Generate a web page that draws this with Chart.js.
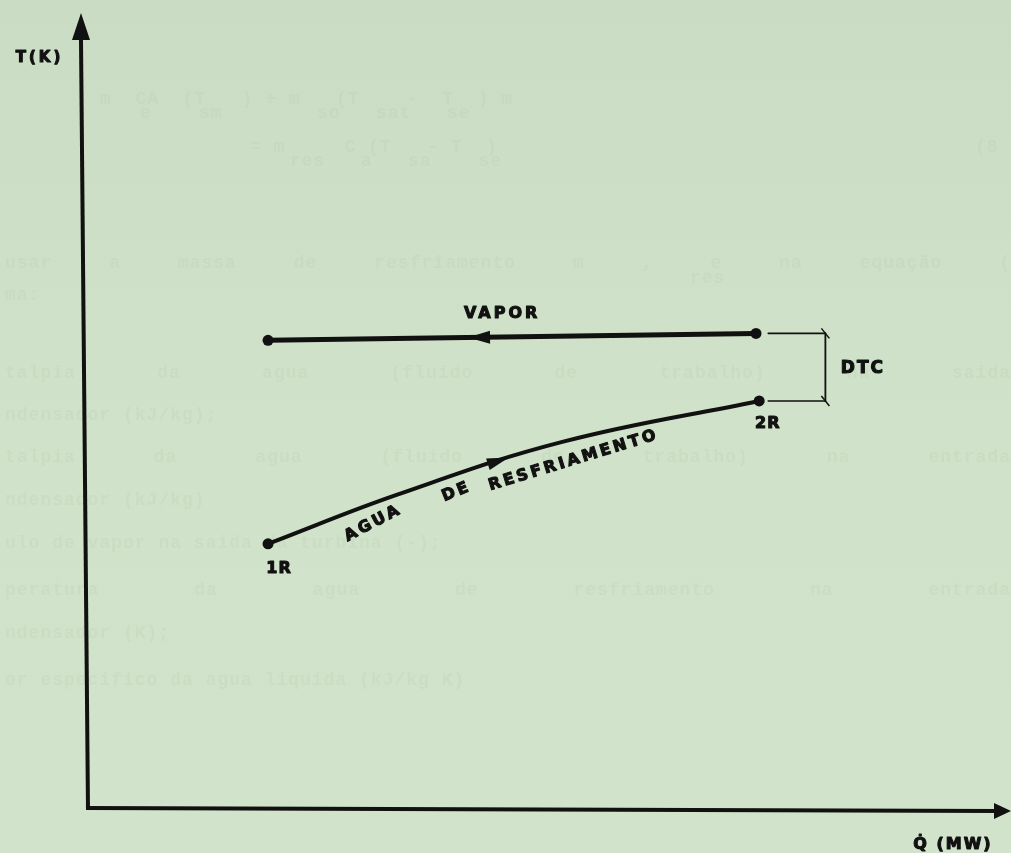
<!DOCTYPE html>
<html>
<head>
<meta charset="utf-8">
<script src="https://cdn.jsdelivr.net/npm/chart.js@4.4.1/dist/chart.umd.min.js"></script>
<style>
  html, body { margin: 0; padding: 0; background: #cfe0c8; overflow: hidden; }
  #wrap { width: 1011px; height: 853px; position: relative; }
</style>
</head>
<body>
<div id="wrap"><canvas id="c" width="1011" height="853"></canvas></div>
<script>
// Heat transferred (Q, arbitrary units) and temperature (T, arbitrary units)
const vaporQ = [19.85, 73.65];
const vaporT = [60.9, 61.8];
const aguaQ = [19.85, 34.1, 52.4, 74.0];
const aguaT = [34.4, 40.8, 47.7, 53.0];

// Terminal temperature difference bracket
const dtcQ = 81.3;
const dtcStartQ = 75.0;

// Flow direction arrows (position along Q)
const vaporArrowQ = 41.9;
const aguaArrowQ = 46.4;

// Labels
const axisLabelT = 'T(K)';
const axisLabelQ = 'Q\u0307 (MW)';
const labels = [
  { text: 'VAPOR', q: 45.5, t: 64.4, angle: 0, size: 16, spacing: 3 },
  { text: 'DTC', q: 83.0, t: 57.2, angle: 0, size: 17, spacing: 2, align: 'left' },
  { text: '2R', q: 74.9, t: 50.0, angle: 0, size: 16, spacing: 1 },
  { text: '1R', q: 21.0, t: 31.2, angle: 0, size: 16, spacing: 1 },
  { text: 'AGUA', q: 31.3, t: 37.0, angle: -28, size: 16, spacing: 3 },
  { text: 'DE', q: 40.5, t: 41.1, angle: -22, size: 16, spacing: 3 },
  { text: 'RESFRIAMENTO', q: 53.4, t: 45.2, angle: -17, size: 16, spacing: 3 }
];

// Faint print showing through the paper
const showThrough = [
  { y: 104, x0: 100, text: 'm  CA  (T   ) + m   (T    -  T  ) m' },
  { y: 118, x0: 140, text: 'e    sm        so   sat   se' },
  { y: 152, x0: 250, text: '= m     C (T   - T  )' },
  { y: 166, x0: 290, text: 'res   a   sa    se' },
  { y: 152, x0: 975, text: '(8' },
  { y: 268, x0: 5, x1: 1011, text: 'usar a massa de resfriamento m    , e na equação (' },
  { y: 283, x0: 690, text: 'res' },
  { y: 300, x0: 5, text: 'ma:' },
  { y: 378, x0: 5, x1: 1011, text: 'talpia da agua (fluido de trabalho) na saida' },
  { y: 420, x0: 5, text: 'ndensador (kJ/kg);' },
  { y: 462, x0: 5, x1: 1011, text: 'talpia da agua (fluido de trabalho) na entrada' },
  { y: 505, x0: 5, text: 'ndensador (kJ/kg)' },
  { y: 548, x0: 5, text: 'ulo de vapor na saida da turbina (-);' },
  { y: 595, x0: 5, x1: 1011, text: 'peratura da agua de resfriamento na  entrada' },
  { y: 638, x0: 5, text: 'ndensador (K);' },
  { y: 685, x0: 5, text: 'or especifico da agua liquida (kJ/kg K)' }
];

const INK = '#111111';
const LETTER_FONT = '"DejaVu Sans", sans-serif';

function pts(qs, ts) { return qs.map((q, i) => ({ x: q, y: ts[i] })); }

function drawJustified(ctx, item) {
  if (item.x1 === undefined) { ctx.fillText(item.text, item.x0, item.y); return; }
  const words = item.text.split(/\s+/);
  const total = words.reduce((s, w) => s + ctx.measureText(w).width, 0);
  const gap = (item.x1 - item.x0 - total) / (words.length - 1);
  let x = item.x0;
  words.forEach(w => { ctx.fillText(w, x, item.y); x += ctx.measureText(w).width + gap; });
}

const paperPlugin = {
  id: 'paper',
  beforeDraw(chart) {
    const ctx = chart.ctx;
    ctx.save();
    const g = ctx.createLinearGradient(0, 0, 0, chart.height);
    g.addColorStop(0, '#cbdcc5');
    g.addColorStop(0.5, '#d0e2c9');
    g.addColorStop(1, '#d1e3ca');
    ctx.fillStyle = g;
    ctx.fillRect(0, 0, chart.width, chart.height);
    ctx.font = 'bold 18px "Liberation Mono", monospace';
    ctx.letterSpacing = '1px';
    ctx.fillStyle = 'rgba(60, 95, 60, 0.035)';
    ctx.textBaseline = 'alphabetic';
    showThrough.forEach(item => drawJustified(ctx, item));
    ctx.restore();
  }
};

function arrowHead(ctx, tipX, tipY, dirX, dirY, len, half) {
  const n = Math.hypot(dirX, dirY);
  const ux = dirX / n, uy = dirY / n;
  const bx = tipX - ux * len, by = tipY - uy * len;
  ctx.beginPath();
  ctx.moveTo(tipX, tipY);
  ctx.lineTo(bx - uy * half, by + ux * half);
  ctx.lineTo(bx + uy * half, by - ux * half);
  ctx.closePath();
  ctx.fill();
}

// Pixel point on a polyline through data points at a given Q
function onPolyline(chart, qs, ts, q) {
  const xs = chart.scales.x, ys = chart.scales.y;
  let i = 0;
  while (i < qs.length - 2 && q > qs[i + 1]) i++;
  const f = (q - qs[i]) / (qs[i + 1] - qs[i]);
  const t = ts[i] + f * (ts[i + 1] - ts[i]);
  const dx = xs.getPixelForValue(qs[i + 1]) - xs.getPixelForValue(qs[i]);
  const dy = ys.getPixelForValue(ts[i + 1]) - ys.getPixelForValue(ts[i]);
  return { x: xs.getPixelForValue(q), y: ys.getPixelForValue(t), dx, dy };
}

function drawLabel(ctx, text, x, y, size, angle, spacing, align) {
  ctx.save();
  ctx.translate(x, y);
  ctx.rotate(angle * Math.PI / 180);
  ctx.font = 'bold ' + size + 'px ' + LETTER_FONT;
  ctx.letterSpacing = spacing + 'px';
  ctx.fillStyle = INK;
  ctx.strokeStyle = INK;
  ctx.lineWidth = 1.1;
  ctx.lineJoin = 'round';
  ctx.textBaseline = 'middle';
  ctx.textAlign = align || 'center';
  const ox = align === 'left' ? 0 : spacing / 2;
  ctx.strokeText(text, ox, 0);
  ctx.fillText(text, ox, 0);
  ctx.restore();
}

const overlayPlugin = {
  id: 'overlay',
  afterDatasetsDraw(chart) {
    const ctx = chart.ctx;
    const ca = chart.chartArea;
    const xs = chart.scales.x, ys = chart.scales.y;
    ctx.save();
    ctx.strokeStyle = INK;
    ctx.fillStyle = INK;
    ctx.lineCap = 'butt';

    // Temperature axis with arrow
    ctx.lineWidth = 4;
    ctx.beginPath();
    ctx.moveTo(ca.left, ca.bottom + 2);
    ctx.lineTo(ca.left - 7, ca.top);
    ctx.stroke();
    arrowHead(ctx, ca.left - 7, ca.top - 27, 0, -1, 27, 9);

    // Heat axis with arrow
    ctx.beginPath();
    ctx.moveTo(ca.left - 2, ca.bottom);
    ctx.lineTo(ca.right + 2, ca.bottom + 3);
    ctx.stroke();
    arrowHead(ctx, ca.right + 16, ca.bottom + 3, 1, 0, 17, 8);

    // Flow direction arrows
    const v = onPolyline(chart, vaporQ, vaporT, vaporArrowQ);
    arrowHead(ctx, v.x, v.y, -v.dx, -v.dy, 22, 6.5);
    const a = onPolyline(chart, aguaQ, aguaT, aguaArrowQ);
    arrowHead(ctx, a.x, a.y - 1.5, a.dx, a.dy, 22, 6);

    // Bracket corner ticks
    ctx.lineWidth = 1.5;
    const bx = xs.getPixelForValue(dtcQ);
    [vaporT[1], aguaT[aguaT.length - 1]].forEach(t => {
      const by = ys.getPixelForValue(t);
      ctx.beginPath();
      ctx.moveTo(bx - 4, by - 5);
      ctx.lineTo(bx + 4, by + 5);
      ctx.stroke();
    });

    // Axis titles
    drawLabel(ctx, axisLabelT, ca.left - 50, ca.top + 18, 15, 0, 3, 'center');
    drawLabel(ctx, axisLabelQ, ca.right - 43, ca.bottom + 37, 16, 0, 2, 'center');

    // Curve annotations
    labels.forEach(l => drawLabel(ctx, l.text, xs.getPixelForValue(l.q), ys.getPixelForValue(l.t),
      l.size, l.angle, l.spacing, l.align));
    ctx.restore();
  }
};

const lastIdx = aguaQ.length - 1;

new Chart(document.getElementById('c'), {
  type: 'line',
  data: {
    datasets: [
      {
        label: 'Vapor',
        data: pts(vaporQ, vaporT),
        borderColor: INK, backgroundColor: INK,
        borderWidth: 5, pointRadius: 5.5, pointBackgroundColor: INK, pointBorderWidth: 0,
        tension: 0
      },
      {
        label: 'Agua de resfriamento',
        data: pts(aguaQ, aguaT),
        borderColor: INK, backgroundColor: INK,
        borderWidth: 4,
        pointRadius: ctx => (ctx.dataIndex === 0 || ctx.dataIndex === lastIdx) ? 5.5 : 0,
        pointBackgroundColor: INK, pointBorderWidth: 0,
        tension: 0.4
      },
      {
        label: 'DTC topo',
        data: [{ x: dtcStartQ, y: vaporT[1] }, { x: dtcQ, y: vaporT[1] }],
        borderColor: INK, borderWidth: 1.6, pointRadius: 0, tension: 0
      },
      {
        label: 'DTC',
        data: [{ x: dtcQ, y: vaporT[1] }, { x: dtcQ, y: aguaT[lastIdx] }],
        borderColor: INK, borderWidth: 1.8, pointRadius: 0, tension: 0
      },
      {
        label: 'DTC base',
        data: [{ x: dtcStartQ, y: aguaT[lastIdx] }, { x: dtcQ, y: aguaT[lastIdx] }],
        borderColor: INK, borderWidth: 1.6, pointRadius: 0, tension: 0
      }
    ]
  },
  options: {
    responsive: false,
    devicePixelRatio: 1,
    animation: false,
    layout: { padding: { left: 88, top: 40, right: 16, bottom: 45 } },
    scales: {
      x: { type: 'linear', min: 0, max: 100, display: false },
      y: { type: 'linear', min: 0, max: 100, display: false }
    },
    plugins: { legend: { display: false }, tooltip: { enabled: false } },
    elements: { line: { borderCapStyle: 'round' } },
    clip: false
  },
  plugins: [paperPlugin, overlayPlugin]
});
</script>
</body>
</html>
